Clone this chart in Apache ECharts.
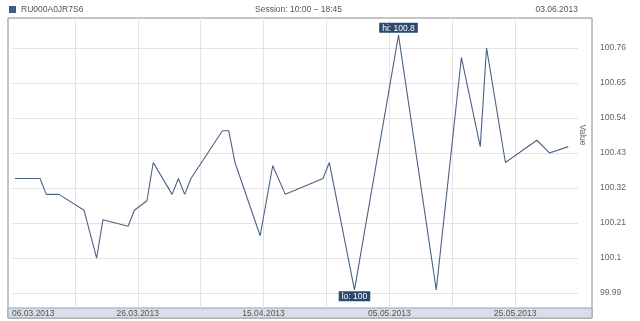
<!DOCTYPE html>
<html>
<head>
<meta charset="utf-8">
<script src="https://cdn.jsdelivr.net/npm/echarts@6/dist/echarts.min.js"></script>
<style>
  html, body { margin: 0; padding: 0; background: #fff; }
  #chart { width: 640px; height: 321px; }
</style>
</head>
<body>
<div id="chart"></div>
<script>
  // trade dates and prices
  const seriesName = 'RU000A0JR7S6'
  const dates = [
    '2013-03-07', '2013-03-11', '2013-03-12', '2013-03-14', '2013-03-18',
    '2013-03-20', '2013-03-21', '2013-03-25', '2013-03-26', '2013-03-28',
    '2013-03-29', '2013-04-01', '2013-04-02', '2013-04-03', '2013-04-04',
    '2013-04-09', '2013-04-10', '2013-04-11', '2013-04-15', '2013-04-17',
    '2013-04-19', '2013-04-25', '2013-04-26', '2013-04-30', '2013-05-07',
    '2013-05-13', '2013-05-17', '2013-05-20', '2013-05-21', '2013-05-24',
    '2013-05-29', '2013-05-31', '2013-06-03'
  ]
  const values = [
    100.35, 100.35, 100.30, 100.30, 100.25,
    100.10, 100.22, 100.20, 100.25, 100.28,
    100.40, 100.30, 100.35, 100.30, 100.35,
    100.50, 100.50, 100.40, 100.17, 100.39,
    100.30, 100.35, 100.40, 100.00, 100.80,
    100.00, 100.73, 100.45, 100.76, 100.40,
    100.47, 100.43, 100.45
  ]

  const DAY = 864e5
  // axis starts at 06.03.2013 midday, 90 days wide
  const origin = Date.UTC(2013, 2, 6, 13)
  const fnt = 'Liberation Sans, Arial, sans-serif'

  function toDays(d) {
    return (Date.parse(d + 'T00:00:00Z') - origin) / DAY
  }
  function fmtDate(v) {
    let d = new Date(origin + v * DAY)
    let dd = String(d.getUTCDate()).padStart(2, '0')
    let mm = String(d.getUTCMonth() + 1).padStart(2, '0')
    return dd + '.' + mm + '.' + d.getUTCFullYear()
  }

  let points = dates.map((d, i) => [toDays(d), values[i]])

  let chart = echarts.init(document.getElementById('chart'), null, { renderer: 'canvas' })
  chart.setOption({
    animation: false,
    backgroundColor: '#fff',
    textStyle: { fontFamily: fnt },
    title: [{
      text: 'Session: 10:00 – 18:45',
      left: 250, top: 0,
      textStyle: { fontSize: 8.5, fontWeight: 'normal', color: '#555', fontFamily: fnt }
    }, {
      text: '03.06.2013',
      right: 57, top: 0,
      textStyle: { fontSize: 8.5, fontWeight: 'normal', color: '#555', fontFamily: fnt }
    }],
    legend: {
      left: 9, top: 5,
      padding: 0,
      icon: 'rect',
      itemWidth: 7, itemHeight: 7,
      data: [seriesName],
      textStyle: { fontSize: 8.5, color: '#555', fontFamily: fnt }
    },
    grid: [
      { left: 12, right: 62, top: 18, bottom: 13, containLabel: false, outerBoundsMode: 'none' },
      { left: 8, right: 48, top: 18, bottom: 3, outerBoundsMode: 'none', show: true, borderColor: '#8a8a8a', borderWidth: 1, backgroundColor: 'transparent' },
      { left: 8, right: 48, top: 308, bottom: 3, outerBoundsMode: 'none', show: true, borderColor: '#9aa3ad', borderWidth: 1, backgroundColor: '#d7dfe8' }
    ],
    xAxis: [{
      type: 'value',
      gridIndex: 0,
      min: 0, max: 90, interval: 10,
      axisLine: { show: false },
      axisTick: { show: false },
      splitLine: { show: true, showMinLine: false, showMaxLine: false, lineStyle: { color: '#e4e4e4', width: 1 } },
      axisLabel: {
        margin: 1,
        fontSize: 8.5,
        color: '#555',
        fontFamily: fnt,
        alignMinLabel: 'left',
        showMaxLabel: false,
        formatter: v => (v % 20 === 0 ? fmtDate(v) : '')
      }
    }, {
      type: 'value', gridIndex: 1, show: false
    }, {
      type: 'value', gridIndex: 2, show: false
    }],
    yAxis: [{
      type: 'value',
      gridIndex: 0,
      position: 'right',
      offset: 14,
      min: 99.943, max: 100.854,
      minInterval: 0.11, maxInterval: 0.11,
      name: 'Value',
      nameLocation: 'middle',
      nameRotate: -90,
      nameGap: -14,
      nameMoveOverlap: false,
      nameTextStyle: { fontSize: 8.5, color: '#666', fontFamily: fnt, padding: [0, 56, 0, 0] },
      axisLine: { show: false },
      axisTick: { show: false },
      splitLine: { show: true, showMinLine: false, showMaxLine: false, lineStyle: { color: '#e4e4e4', width: 1 } },
      axisLabel: {
        margin: 8,
        fontSize: 8.5,
        color: '#666',
        fontFamily: fnt,
        showMinLabel: false,
        showMaxLabel: false
      }
    }, {
      type: 'value', gridIndex: 1, show: false
    }, {
      type: 'value', gridIndex: 2, show: false
    }],
    series: [{
      name: seriesName,
      type: 'line',
      xAxisIndex: 0,
      yAxisIndex: 0,
      data: points,
      showSymbol: false,
      color: '#3f5a7c',
      lineStyle: { color: '#4c6383', width: 1.1 },
      markPoint: {
        symbol: 'circle',
        symbolSize: 1,
        itemStyle: { color: 'rgba(0,0,0,0)' },
        label: {
          show: true,
          fontSize: 8.5,
          fontFamily: fnt,
          color: '#fff',
          backgroundColor: '#2c4a6d',
          padding: [1, 3, 0, 3]
        },
        data: [
          { type: 'max', valueDim: 'y', label: { position: 'top', distance: 2, formatter: p => 'hi: ' + p.value } },
          { type: 'min', valueDim: 'y', label: { position: 'bottom', distance: 1, formatter: p => 'lo: ' + p.value } }
        ]
      }
    }]
  })
</script>
</body>
</html>
